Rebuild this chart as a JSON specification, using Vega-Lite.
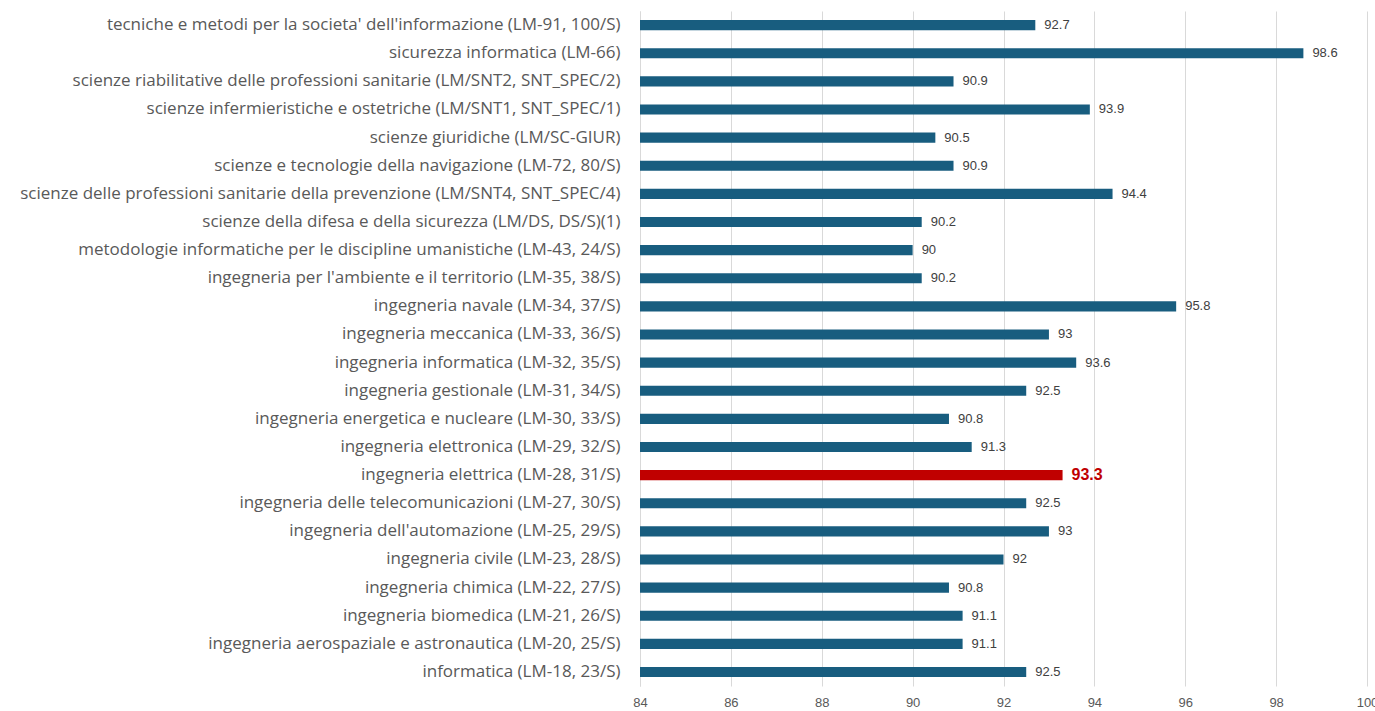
{
  "$schema": "https://vega.github.io/schema/vega-lite/v6.json",
  "autosize": {"type": "none"},
  "padding": {"left": 640, "top": 11, "right": 8, "bottom": 25},
  "width": 727,
  "height": 675,
  "background": "white",
  "config": {"view": {"stroke": null}},
  "data": {"values": [
    {"corso": "tecniche e metodi per la societa' dell'informazione (LM-91, 100/S)", "valore": 92.7, "evidenza": "no"},
    {"corso": "sicurezza informatica (LM-66)", "valore": 98.6, "evidenza": "no"},
    {"corso": "scienze riabilitative delle professioni sanitarie (LM/SNT2, SNT_SPEC/2)", "valore": 90.9, "evidenza": "no"},
    {"corso": "scienze infermieristiche e ostetriche (LM/SNT1, SNT_SPEC/1)", "valore": 93.9, "evidenza": "no"},
    {"corso": "scienze giuridiche (LM/SC-GIUR)", "valore": 90.5, "evidenza": "no"},
    {"corso": "scienze e tecnologie della navigazione (LM-72, 80/S)", "valore": 90.9, "evidenza": "no"},
    {"corso": "scienze delle professioni sanitarie della prevenzione (LM/SNT4, SNT_SPEC/4)", "valore": 94.4, "evidenza": "no"},
    {"corso": "scienze della difesa e della sicurezza (LM/DS, DS/S)(1)", "valore": 90.2, "evidenza": "no"},
    {"corso": "metodologie informatiche per le discipline umanistiche (LM-43, 24/S)", "valore": 90, "evidenza": "no"},
    {"corso": "ingegneria per l'ambiente e il territorio (LM-35, 38/S)", "valore": 90.2, "evidenza": "no"},
    {"corso": "ingegneria navale (LM-34, 37/S)", "valore": 95.8, "evidenza": "no"},
    {"corso": "ingegneria meccanica (LM-33, 36/S)", "valore": 93, "evidenza": "no"},
    {"corso": "ingegneria informatica (LM-32, 35/S)", "valore": 93.6, "evidenza": "no"},
    {"corso": "ingegneria gestionale (LM-31, 34/S)", "valore": 92.5, "evidenza": "no"},
    {"corso": "ingegneria energetica e nucleare (LM-30, 33/S)", "valore": 90.8, "evidenza": "no"},
    {"corso": "ingegneria elettronica (LM-29, 32/S)", "valore": 91.3, "evidenza": "no"},
    {"corso": "ingegneria elettrica (LM-28, 31/S)", "valore": 93.3, "evidenza": "si"},
    {"corso": "ingegneria delle telecomunicazioni (LM-27, 30/S)", "valore": 92.5, "evidenza": "no"},
    {"corso": "ingegneria dell'automazione (LM-25, 29/S)", "valore": 93, "evidenza": "no"},
    {"corso": "ingegneria civile (LM-23, 28/S)", "valore": 92, "evidenza": "no"},
    {"corso": "ingegneria chimica (LM-22, 27/S)", "valore": 90.8, "evidenza": "no"},
    {"corso": "ingegneria biomedica (LM-21, 26/S)", "valore": 91.1, "evidenza": "no"},
    {"corso": "ingegneria aerospaziale e astronautica (LM-20, 25/S)", "valore": 91.1, "evidenza": "no"},
    {"corso": "informatica (LM-18, 23/S)", "valore": 92.5, "evidenza": "no"}
  ]},
  "encoding": {
    "y": {
      "field": "corso", "type": "nominal", "sort": null, "title": null,
      "scale": {"paddingInner": 0.64, "paddingOuter": 0.32},
      "axis": {"ticks": false, "domain": true, "domainColor": "#d9d9d9", "labelFont": "Open Sans", "labelFontSize": 17, "labelColor": "#595959", "labelPadding": 20, "labelLimit": 700}
    },
    "x": {
      "field": "valore", "type": "quantitative", "title": null,
      "scale": {"domain": [84, 100], "zero": false, "nice": false},
      "axis": {"values": [84, 86, 88, 90, 92, 94, 96, 98, 100], "grid": true, "gridColor": "#d9d9d9", "domain": false, "ticks": false, "labelFont": "Liberation Sans", "labelFontSize": 13, "labelColor": "#595959", "labelPadding": 10, "labelFlush": false}
    }
  },
  "layer": [
    {
      "mark": {"type": "bar"},
      "encoding": {
        "x2": {"datum": 84},
        "color": {"field": "evidenza", "type": "nominal", "legend": null, "scale": {"domain": ["no", "si"], "range": ["#185d7f", "#c00000"]}}
      }
    },
    {
      "transform": [{"filter": "datum.evidenza === 'no'"}],
      "mark": {"type": "text", "align": "left", "baseline": "middle", "dx": 9, "font": "Liberation Sans", "fontSize": 13, "color": "#404040"},
      "encoding": {
        "text": {"field": "valore", "type": "quantitative"}
      }
    },
    {
      "transform": [{"filter": "datum.evidenza === 'si'"}],
      "mark": {"type": "text", "align": "left", "baseline": "middle", "dx": 9, "font": "Liberation Sans", "fontSize": 16, "fontWeight": "bold", "color": "#c00000"},
      "encoding": {
        "text": {"field": "valore", "type": "quantitative"}
      }
    }
  ]
}
